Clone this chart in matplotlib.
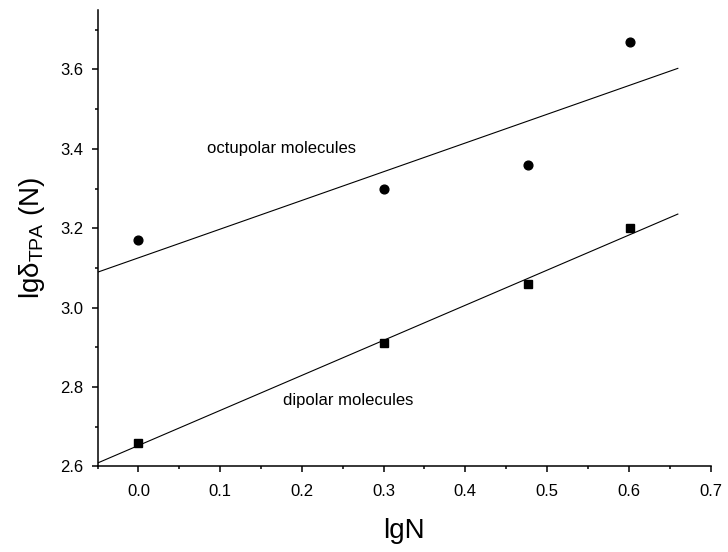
import numpy as np
import matplotlib
matplotlib.use('Agg')
import matplotlib.pyplot as plt
from matplotlib.ticker import MultipleLocator

plt.rcParams['font.family'] = ['Liberation Sans', 'DejaVu Sans']
plt.rcParams['mathtext.fontset'] = 'custom'
plt.rcParams['mathtext.rm'] = 'Liberation Sans'
plt.rcParams['mathtext.it'] = 'Liberation Sans'

# lgN for N = 1, 2, 3, 4
lgN = [0.0, 0.301, 0.477, 0.602]
octupolar = [3.17, 3.30, 3.36, 3.67]
dipolar = [2.66, 2.91, 3.06, 3.20]
fit_range = [-0.05, 0.66]

fig = plt.figure(figsize=(7.28, 5.52), dpi=100)
ax = fig.add_axes([0.134, 0.155, 0.842, 0.827])

xfit = np.array(fit_range)
for y, mk in [(octupolar, 'o'), (dipolar, 's')]:
    ax.plot(lgN, y, linestyle='none', marker=mk, color='black', markersize=6.3)
    # linear fit, as in the original
    p = np.polyfit(lgN, y, 1)
    ax.plot(xfit, np.polyval(p, xfit), color='black', linewidth=0.8)

ax.text(0.084, 3.40, 'octupolar molecules', fontsize=12, va='center')
ax.text(0.177, 2.767, 'dipolar molecules', fontsize=12, va='center')

ax.set_xlim(-0.05, 0.7)
ax.set_ylim(2.6, 3.75)
ax.xaxis.set_major_locator(MultipleLocator(0.1))
ax.xaxis.set_minor_locator(MultipleLocator(0.05))
ax.yaxis.set_major_locator(MultipleLocator(0.2))
ax.yaxis.set_minor_locator(MultipleLocator(0.1))
ax.set_xticks(np.arange(0, 0.71, 0.1))
ax.set_xticklabels(['%.1f' % v for v in np.arange(0, 0.71, 0.1)])

ax.spines['top'].set_visible(False)
ax.spines['right'].set_visible(False)
for s in ['left', 'bottom']:
    ax.spines[s].set_linewidth(1.1)
ax.tick_params(which='major', direction='out', length=4.5, width=1.1, labelsize=12)
ax.tick_params(axis='x', which='major', pad=8)
ax.tick_params(axis='y', which='major', pad=6)
ax.tick_params(which='minor', direction='out', length=2.5, width=1.1)

ax.set_xlabel('lgN', fontsize=20, labelpad=14)
ax.set_ylabel(r'lg$\delta_{\mathrm{TPA}}$ (N)', fontsize=20, labelpad=9)

fig.savefig('out.png', dpi=100)
